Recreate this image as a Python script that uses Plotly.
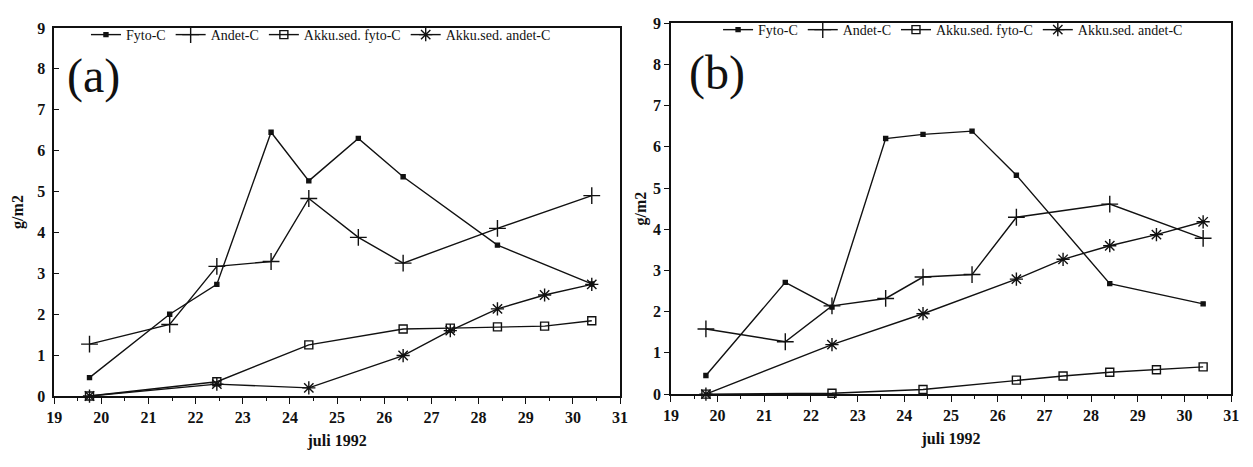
import plotly.graph_objects as go

# Sampling dates (day of July 1992)
dates_main = [19.75, 21.45, 22.45, 23.6, 24.4, 25.45, 26.4, 28.4, 30.4]
dates_sed = [19.75, 22.45, 24.4, 26.4, 27.4, 28.4, 29.4, 30.4]

# Panel (a)
fyto_a = [0.45, 2.0, 2.73, 6.45, 5.26, 6.3, 5.36, 3.69, 2.74]
andet_a = [1.27, 1.75, 3.17, 3.29, 4.83, 3.88, 3.25, 4.1, 4.9]
sed_fyto_a = [0.0, 0.35, 1.25, 1.64, 1.66, 1.69, 1.71, 1.84]
sed_andet_a = [0.0, 0.29, 0.2, 0.99, 1.6, 2.13, 2.47, 2.73]

# Panel (b)
fyto_b = [0.45, 2.71, 2.11, 6.2, 6.3, 6.38, 5.31, 2.68, 2.19]
andet_b = [1.58, 1.27, 2.14, 2.32, 2.84, 2.9, 4.29, 4.61, 3.78]
sed_fyto_b = [0.0, 0.02, 0.11, 0.34, 0.44, 0.53, 0.59, 0.66]
sed_andet_b = [0.0, 1.2, 1.95, 2.79, 3.27, 3.6, 3.87, 4.18]

x_ticks = list(range(19, 32))
y_ticks = list(range(0, 10))

series_names = ["Fyto-C", "Andet-C", "Akku.sed. fyto-C", "Akku.sed. andet-C"]
symbols = ["square", "cross-thin-open", "square-open", "asterisk-open"]
sizes = [4, 12, 8, 11]

FONT = "Liberation Serif, Times New Roman, serif"
BLACK = "#111111"

fig = go.Figure()

panels = [
    ("x", "y", "legend", [(dates_main, fyto_a), (dates_main, andet_a),
                          (dates_sed, sed_fyto_a), (dates_sed, sed_andet_a)]),
    ("x2", "y2", "legend2", [(dates_main, fyto_b), (dates_main, andet_b),
                             (dates_sed, sed_fyto_b), (dates_sed, sed_andet_b)]),
]

for xa, ya, leg, data in panels:
    for name, sym, sz, (xs, ys) in zip(series_names, symbols, sizes, data):
        fig.add_trace(go.Scatter(
            x=xs, y=ys, name=name, xaxis=xa, yaxis=ya, legend=leg,
            mode="lines+markers", cliponaxis=False,
            line=dict(color=BLACK, width=1.4),
            marker=dict(symbol=sym, size=sz, color=BLACK,
                        line=dict(color=BLACK, width=1.4)),
        ))

axis_common = dict(
    showgrid=False, zeroline=False, showline=True, mirror=True,
    linecolor=BLACK, linewidth=1.6,
    tickfont=dict(family=FONT, size=16, color=BLACK, weight="bold"),
    tickcolor=BLACK,
)

title_font = dict(family=FONT, size=16, color=BLACK, weight="bold")
xtitle = dict(text="juli 1992", font=title_font, standoff=10)

fig.update_layout(
    width=1253, height=467,
    margin=dict(l=0, r=0, t=0, b=0),
    paper_bgcolor="white", plot_bgcolor="white",
    font=dict(family=FONT, color=BLACK),
    showlegend=True,
    xaxis=dict(domain=[0.0373, 0.4948], range=[19, 31], tickvals=x_ticks,
               ticks="outside", ticklen=6,
               minor=dict(dtick=0.5, ticks="outside", ticklen=3, tickcolor=BLACK),
               title=xtitle, anchor="y", **axis_common),
    yaxis=dict(domain=[0.1377, 0.9557], range=[0, 9], tickvals=y_ticks,
               ticks="inside", ticklen=5, ticklabelstandoff=4,
               title=dict(text="g/m2", font=title_font, standoff=10),
               anchor="x", **axis_common),
    xaxis2=dict(domain=[0.5359, 0.9888], range=[19, 31], tickvals=x_ticks,
                ticks="outside", ticklen=6,
                minor=dict(dtick=0.5, ticks="outside", ticklen=3, tickcolor=BLACK),
                title=xtitle, anchor="y2", **axis_common),
    yaxis2=dict(domain=[0.142, 0.9664], range=[0, 9], tickvals=y_ticks,
                ticks="outside", ticklen=5,
                title=dict(text="g/m2", font=title_font, standoff=2),
                anchor="x2", **axis_common),
    legend=dict(orientation="h", x=0.253, y=0.94, xanchor="center", yanchor="middle",
                font=dict(family=FONT, size=14, color=BLACK), bgcolor="rgba(0,0,0,0)",
                itemwidth=30, tracegroupgap=0),
    legend2=dict(orientation="h", x=0.764, y=0.951, xanchor="center", yanchor="middle",
                 font=dict(family=FONT, size=14, color=BLACK), bgcolor="rgba(0,0,0,0)",
                 itemwidth=30, tracegroupgap=0),
    annotations=[
        dict(text="(a)", xref="paper", yref="paper", x=0.046, y=0.85,
             xanchor="left", yanchor="middle", showarrow=False,
             font=dict(family=FONT, size=48, color=BLACK)),
        dict(text="(b)", xref="paper", yref="paper", x=0.549, y=0.855,
             xanchor="left", yanchor="middle", showarrow=False,
             font=dict(family=FONT, size=48, color=BLACK)),
    ],
)

fig.write_html("out.html")
